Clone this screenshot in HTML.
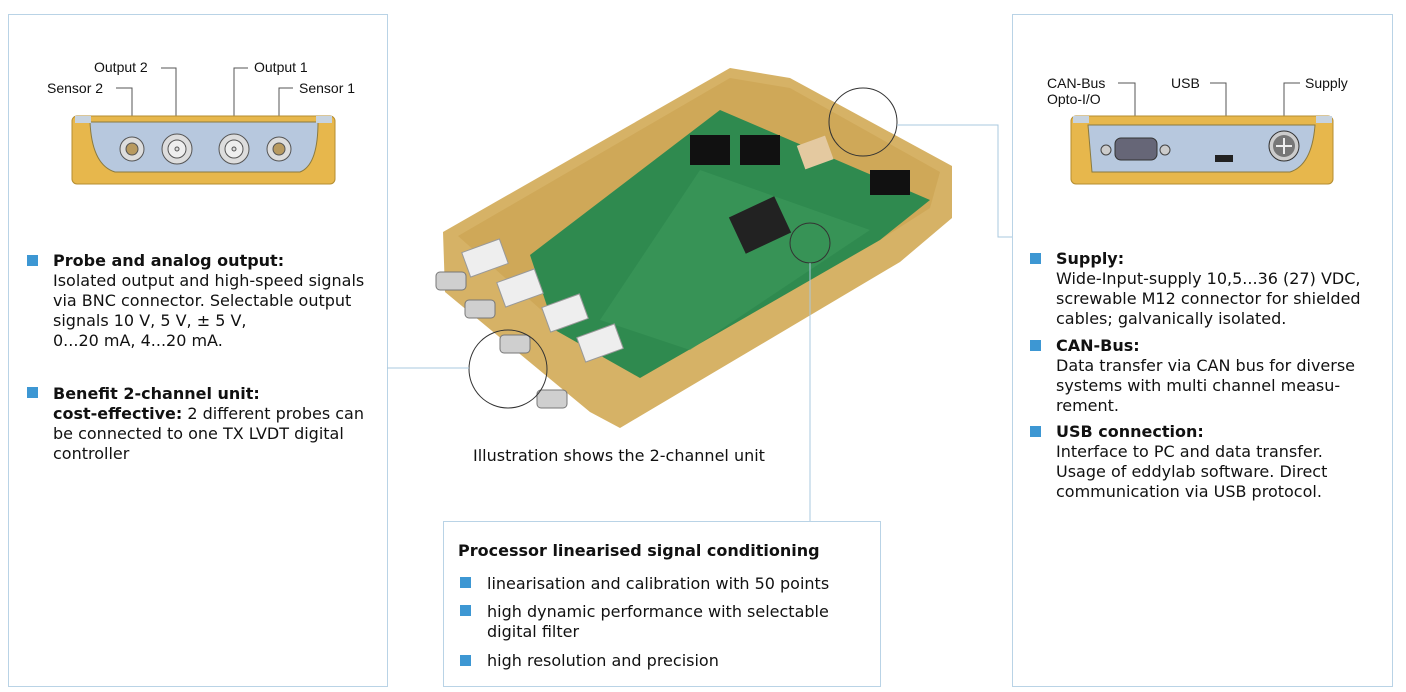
<!DOCTYPE html>
<html><head><meta charset="utf-8"><style>
html,body{margin:0;padding:0;background:#fff;width:1406px;height:692px;overflow:hidden;position:relative;font-family:"Liberation Sans","DejaVu Sans",sans-serif;color:#111}
.box{position:absolute;border:1px solid #b9d3e6;background:#fff}
.t{position:absolute;font-size:16px;line-height:20px;font-family:"DejaVu Sans","Liberation Sans",sans-serif}
.t b{font-weight:bold}
.sq{position:absolute;width:11px;height:11px;background:#3d97d3}
.lab{position:absolute;font-size:14px;line-height:16px}
</style></head><body>
<div class="box" style="left:8px;top:14px;width:378px;height:671px"></div>
<div class="box" style="left:1012px;top:14px;width:379px;height:671px"></div>
<div class="box" style="left:443px;top:521px;width:436px;height:164px"></div>

<svg width="1406" height="692" style="position:absolute;left:0;top:0">
 <!-- left connector panel -->
 <g stroke="#555" fill="none" stroke-width="1">
  <path d="M116 88 H132 V132"/><path d="M161 68 H176 V128"/><path d="M248 68 H234 V128"/><path d="M293 88 H279 V132"/>
 </g>
 <rect x="72" y="116" width="263" height="68" rx="5" fill="#e7b74c" stroke="#b58d30"/>
 <path d="M90 122 H318 Q318 165 300 172 H115 Q92 165 90 122Z" fill="#b7c8de" stroke="#8a7a40"/>
 <rect x="75" y="116" width="16" height="7" fill="#c7d3df"/><rect x="316" y="116" width="16" height="7" fill="#c7d3df"/>
 <g fill="#ddd" stroke="#555">
  <circle cx="132" cy="149" r="12"/><circle cx="132" cy="149" r="6" fill="#b89a60"/>
  <circle cx="177" cy="149" r="15"/><circle cx="177" cy="149" r="9" fill="#eee"/><circle cx="177" cy="149" r="2"/>
  <circle cx="234" cy="149" r="15"/><circle cx="234" cy="149" r="9" fill="#eee"/><circle cx="234" cy="149" r="2"/>
  <circle cx="279" cy="149" r="12"/><circle cx="279" cy="149" r="6" fill="#b89a60"/>
 </g>
 <!-- right connector panel -->
 <g stroke="#555" fill="none">
  <path d="M1118 83 H1135 V135"/><path d="M1210 83 H1226 V150"/><path d="M1300 83 H1284 V128"/>
 </g>
 <rect x="1071" y="116" width="262" height="68" rx="5" fill="#e7b74c" stroke="#b58d30"/>
 <path d="M1088 125 H1315 Q1312 165 1290 172 H1092 Z" fill="#b7c8de" stroke="#8a7a40"/>
 <rect x="1073" y="116" width="16" height="7" fill="#c7d3df"/><rect x="1316" y="116" width="16" height="7" fill="#c7d3df"/>
 <rect x="1115" y="138" width="42" height="22" rx="6" fill="#667" stroke="#333"/>
 <circle cx="1106" cy="150" r="5" fill="#ccc" stroke="#444"/><circle cx="1165" cy="150" r="5" fill="#ccc" stroke="#444"/>
 <rect x="1215" y="155" width="18" height="7" fill="#222"/>
 <circle cx="1284" cy="146" r="15" fill="#ccc" stroke="#333"/><circle cx="1284" cy="146" r="11" fill="#777"/>
 <path d="M1276 146 H1292 M1284 138 V154" stroke="#eee" stroke-width="2"/>
 <!-- device -->
 <polygon points="443,232 730,68 790,78 952,166 952,218 900,262 620,428 590,412 445,292" fill="#d6b266"/>
 <polygon points="458,236 730,78 790,88 940,172 930,208 880,240 640,378 575,340" fill="#cfa858"/>
 <polygon points="530,255 720,110 930,200 880,240 640,378 555,330" fill="#2f8a4f"/>
 <polygon points="600,320 700,170 870,230 690,350" fill="#3d9a5c" opacity=".6"/>
 <rect x="735" y="205" width="50" height="40" fill="#222" transform="rotate(-25 760 225)"/>
 <rect x="690" y="135" width="40" height="30" fill="#111"/><rect x="740" y="135" width="40" height="30" fill="#111"/>
 <rect x="870" y="170" width="40" height="25" fill="#111"/>
 <g fill="#eee" stroke="#999">
  <rect x="465" y="245" width="40" height="26" transform="rotate(-20 485 258)"/>
  <rect x="500" y="275" width="40" height="26" transform="rotate(-20 520 288)"/>
  <rect x="545" y="300" width="40" height="26" transform="rotate(-20 565 313)"/>
  <rect x="580" y="330" width="40" height="26" transform="rotate(-20 600 343)"/>
 </g>
 <g fill="#cfcfcf" stroke="#777">
  <rect x="436" y="272" width="30" height="18" rx="4"/><rect x="465" y="300" width="30" height="18" rx="4"/>
  <rect x="500" y="335" width="30" height="18" rx="4"/><rect x="537" y="390" width="30" height="18" rx="4"/>
 </g>
 <rect x="800" y="140" width="30" height="25" fill="#e4c9a0" transform="rotate(-20 815 152)"/>
 <g fill="none" stroke="#333" stroke-width="1">
  <circle cx="863" cy="122" r="34"/><circle cx="508" cy="369" r="39"/><circle cx="810" cy="243" r="20"/>
 </g>
 <g fill="none" stroke="#a9c8df" stroke-width="1">
  <path d="M897 125 H998 V237 H1012"/><path d="M387 368 H469"/><path d="M810 263 V521"/>
 </g>
</svg>

<div class="lab" style="left:94px;top:59px">Output 2</div>
<div class="lab" style="left:47px;top:80px">Sensor 2</div>
<div class="lab" style="left:254px;top:59px">Output 1</div>
<div class="lab" style="left:299px;top:80px;width:56px;overflow:hidden;white-space:nowrap">Sensor 1</div>
<div class="lab" style="left:1047px;top:75px">CAN-Bus<br>Opto-I/O</div>
<div class="lab" style="left:1171px;top:75px">USB</div>
<div class="lab" style="left:1305px;top:75px">Supply</div>

<div class="sq" style="left:27px;top:255px"></div>
<div class="t" style="left:53px;top:251px"><b>Probe and analog output:</b><br>Isolated output and high-speed signals<br>via BNC connector. Selectable output<br>signals 10 V, 5 V, ± 5 V,<br>0...20 mA, 4...20 mA.</div>
<div class="sq" style="left:27px;top:387px"></div>
<div class="t" style="left:53px;top:384px"><b>Benefit 2-channel unit:</b><br><b>cost-effective:</b> 2 different probes can<br>be connected to one TX LVDT digital<br>controller</div>

<div class="t" style="left:473px;top:446px">Illustration shows the 2-channel unit</div>

<div class="t" style="left:458px;top:541px"><b>Processor linearised signal conditioning</b></div>
<div class="sq" style="left:460px;top:577px"></div>
<div class="t" style="left:487px;top:574px">linearisation and calibration with 50 points</div>
<div class="sq" style="left:460px;top:605px"></div>
<div class="t" style="left:487px;top:602px">high dynamic performance with selectable<br>digital filter</div>
<div class="sq" style="left:460px;top:655px"></div>
<div class="t" style="left:487px;top:651px">high resolution and precision</div>

<div class="sq" style="left:1030px;top:253px"></div>
<div class="t" style="left:1056px;top:249px"><b>Supply:</b><br>Wide-Input-supply 10,5...36 (27) VDC,<br>screwable M12 connector for shielded<br>cables; galvanically isolated.</div>
<div class="sq" style="left:1030px;top:340px"></div>
<div class="t" style="left:1056px;top:336px"><b>CAN-Bus:</b><br>Data transfer via CAN bus for diverse<br>systems with multi channel measu-<br>rement.</div>
<div class="sq" style="left:1030px;top:426px"></div>
<div class="t" style="left:1056px;top:422px"><b>USB connection:</b><br>Interface to PC and data transfer.<br>Usage of eddylab software. Direct<br>communication via USB protocol.</div>
</body></html>
